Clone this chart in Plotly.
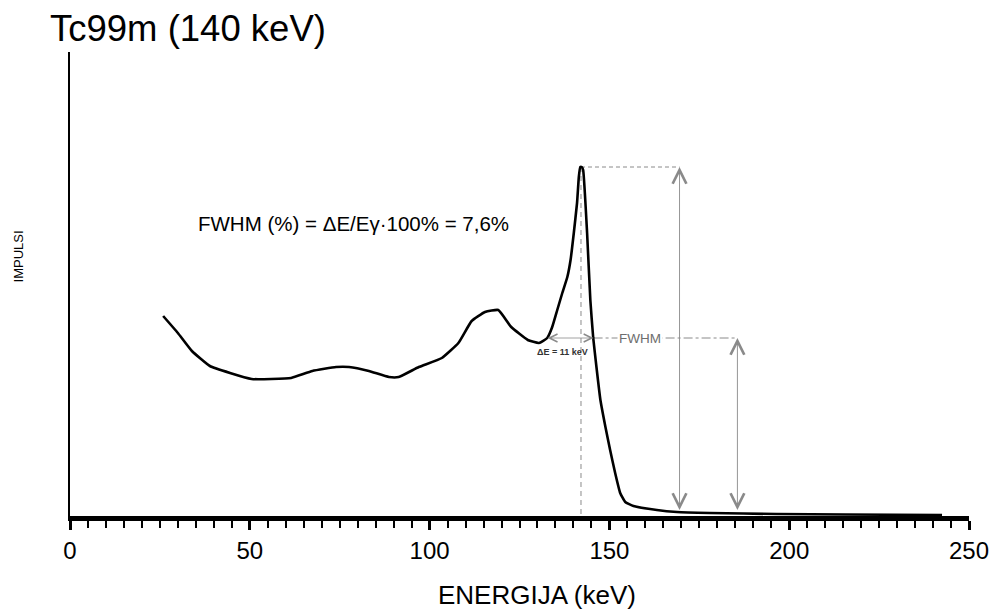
import plotly.graph_objects as go

# ---- data ----
energy_kev = [25.9, 30.0, 33.9, 38.9, 44.5, 50.5, 56.0, 61.5, 67.4, 74.0, 77.6, 83.1,
              88.7, 91.4, 97.0, 103.4, 108.0, 111.7, 115.4, 119.1, 122.7, 127.3, 130.4,
              132.7, 134.1, 135.5, 136.9, 138.3, 139.2, 140.1, 141.0, 141.5, 141.9, 142.3,
              142.7, 143.8, 144.7, 145.5, 146.4, 147.5, 148.9, 150.2, 151.6, 153.0, 154.4,
              156.7, 163.2, 168.8, 177.9, 196.4, 215.7, 242.5]
impulses = [203, 186, 168, 153, 146, 140, 140, 141, 148, 152, 152, 148,
            142, 142, 152, 161, 176, 198, 207, 209, 192, 179, 176,
            181, 192, 209, 226, 242, 259, 286, 316, 342, 352, 352,
            349, 286, 219, 181, 152, 119, 92, 69, 46, 26, 17,
            13, 9, 7, 6, 5, 4.5, 4]

x_tick_vals = [0, 50, 100, 150, 200, 250]
x_tick_text = ["0", "50", "100", "150", "200", "250"]

title_text = "Tc99m (140 keV)"
x_title = "ENERGIJA (keV)"
y_title = "IMPULSI"
formula_text = "FWHM (%) = ΔE/Eγ·100% = 7,6%"
fwhm_label = "FWHM"
delta_label = "ΔE = 11 keV"

fwhm_level = 181
fwhm_low = 132.4
fwhm_high = 145.6
full_arrow_x = 169.5
half_arrow_x = 185.6
arrow_floor = 7.5
fwhm_label_x = 158.6
delta_label_x = 137.0
delta_label_y = 167
formula_x = 35.0
formula_y = 296

peak_idx = impulses.index(max(impulses))
peak_energy = 142.1
peak_level = impulses[peak_idx]

FONT = "Liberation Sans, Arial, sans-serif"
GRAY = "#8a8a8a"

fig = go.Figure()

# guide lines
fig.add_trace(go.Scatter(x=[peak_energy, peak_energy], y=[peak_level, 0], mode="lines",
                         line=dict(color=GRAY, width=1, dash="5px,4px"), hoverinfo="skip",
                         showlegend=False))
fig.add_trace(go.Scatter(x=[peak_energy, full_arrow_x], y=[peak_level, peak_level], mode="lines",
                         line=dict(color=GRAY, width=1, dash="4px,3px"), hoverinfo="skip",
                         showlegend=False))
fig.add_trace(go.Scatter(x=[fwhm_high, half_arrow_x], y=[fwhm_level, fwhm_level], mode="lines",
                         line=dict(color=GRAY, width=1, dash="dashdot"), hoverinfo="skip",
                         showlegend=False))

# spectrum
fig.add_trace(go.Scatter(x=energy_kev, y=impulses, mode="lines",
                         line=dict(color="black", width=2.6, shape="spline", smoothing=0.4),
                         showlegend=False))

annotations = [
    # double arrows
    dict(x=full_arrow_x, y=peak_level, ax=full_arrow_x, ay=arrow_floor, xref="x", yref="y",
         axref="x", ayref="y", text="", showarrow=True, arrowside="end+start", arrowhead=5,
         arrowsize=3, arrowwidth=0.9, arrowcolor=GRAY, standoff=0, startstandoff=0,
         startarrowhead=5, startarrowsize=3),
    dict(x=half_arrow_x, y=fwhm_level, ax=half_arrow_x, ay=arrow_floor, xref="x", yref="y",
         axref="x", ayref="y", text="", showarrow=True, arrowside="end+start", arrowhead=5,
         arrowsize=3, arrowwidth=0.9, arrowcolor=GRAY, standoff=0, startstandoff=0,
         startarrowhead=5, startarrowsize=3),
    dict(x=fwhm_high, y=fwhm_level, ax=fwhm_low, ay=fwhm_level, xref="x", yref="y",
         axref="x", ayref="y", text="", showarrow=True, arrowside="end+start", arrowhead=5,
         arrowsize=2, arrowwidth=0.8, arrowcolor=GRAY, standoff=0, startstandoff=0,
         startarrowhead=5, startarrowsize=2),
    # texts
    dict(x=fwhm_label_x, y=fwhm_level, xref="x", yref="y", text=fwhm_label, showarrow=False,
         font=dict(family=FONT, size=13.5, color="#6e6e6e"), bgcolor="white",
         xanchor="center", yanchor="middle"),
    dict(x=delta_label_x, y=delta_label_y, xref="x", yref="y", text="<b>" + delta_label + "</b>",
         showarrow=False, font=dict(family=FONT, size=9, color="#333333"),
         xanchor="center", yanchor="middle"),
    dict(x=formula_x, y=formula_y, xref="x", yref="y", text=formula_text, showarrow=False,
         font=dict(family=FONT, size=20.5, color="black"), xanchor="left", yanchor="middle"),
    dict(x=-0.0243, y=1.0517, xref="paper", yref="paper", text=title_text, showarrow=False,
         font=dict(family=FONT, size=36.5, color="black"), xanchor="left", yanchor="middle"),
    dict(x=0.52, y=-0.1703, xref="paper", yref="paper", text=x_title, showarrow=False,
         font=dict(family=FONT, size=26, color="black"), xanchor="center", yanchor="middle"),
    dict(x=-0.0575, y=0.560, xref="paper", yref="paper", text=y_title, showarrow=False,
         textangle=-90, font=dict(family=FONT, size=13, color="black"),
         xanchor="center", yanchor="middle"),
]

fig.update_layout(
    width=1001, height=609,
    margin=dict(l=70, r=27, t=52, b=93),
    paper_bgcolor="white", plot_bgcolor="white",
    annotations=annotations,
    xaxis=dict(range=[0, 250], showgrid=False, zeroline=False, showline=True,
               linecolor="black", linewidth=5, ticks="outside", ticklen=9, tickwidth=2.5,
               tickcolor="black", tickvals=x_tick_vals, ticktext=x_tick_text,
               tickfont=dict(family=FONT, size=24, color="black"),
               minor=dict(dtick=5, ticks="outside", ticklen=7, tickwidth=2, tickcolor="black",
                          showgrid=False)),
    yaxis=dict(range=[3, 467], showgrid=False, zeroline=False, showline=True,
               linecolor="black", linewidth=2, showticklabels=False, ticks=""),
)

fig.write_html("out.html", config={"displayModeBar": False},
               post_script="document.body.style.margin='0';document.body.style.overflow='hidden';")
